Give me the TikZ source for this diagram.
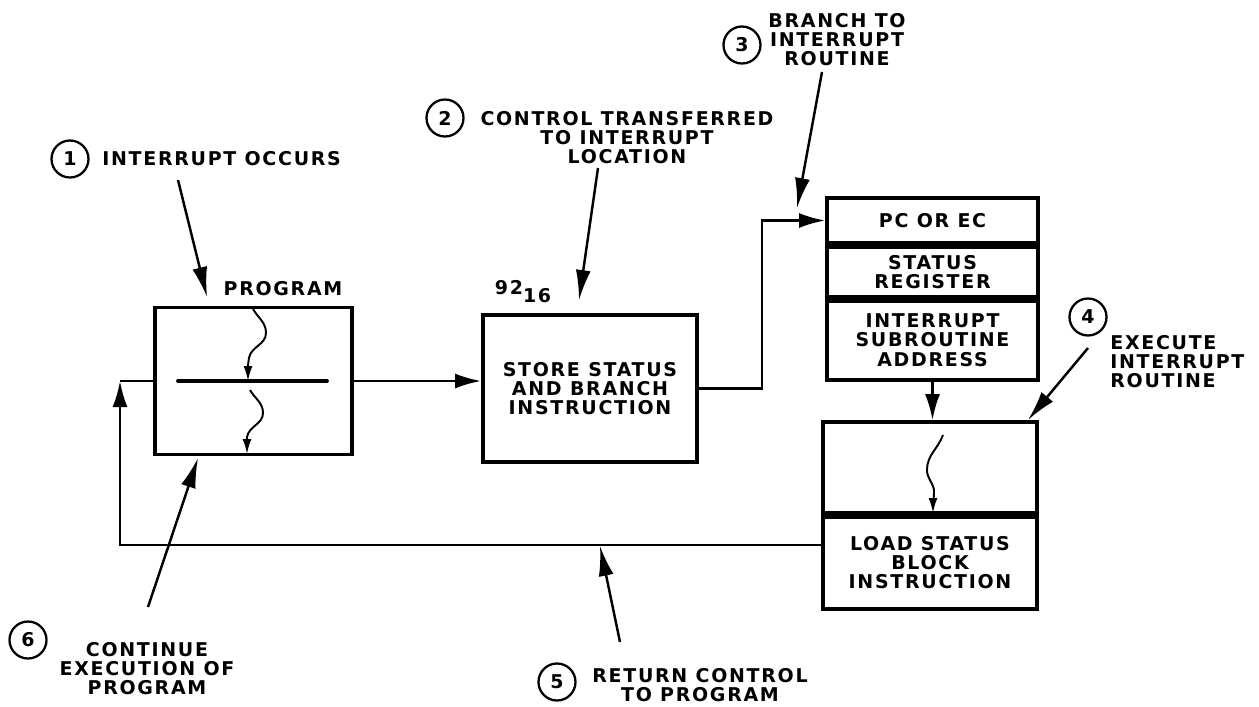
\documentclass[tikz,border=0pt]{standalone}
\usepackage{fontspec}
\setmainfont{DejaVu Sans}[LetterSpace=9]
\usetikzlibrary{arrows.meta,positioning}

\tikzset{
  lbl/.style={font=\bfseries\fontsize{10.8}{10.9}\selectfont,align=center,inner sep=0pt},
  box/.style={draw,line width=2.2pt,inner sep=0pt,lbl},
  num/.style={draw,circle,line width=1.3pt,minimum size=0.74cm,inner sep=0pt,lbl},
  flow/.style={line width=1.4pt,-{Latex[length=0.52cm,width=0.3cm]}},
  pointer/.style={line width=1.4pt,-{Latex[length=0.6cm,width=0.3cm]}},
  wavy/.style={line width=1.1pt,-{Latex[length=0.3cm,width=0.18cm]}}
}

\begin{document}
\begin{tikzpicture}[x=0.02cm,y=-0.02cm]
    \useasboundingbox (0,0) rectangle (1259,707);
    \node[box,minimum width=3.94cm,minimum height=2.94cm] (prog) at (253.5,381) {};
    \node[lbl] (progt) at (283,289) {PROGRAM};
    \draw[line width=2.2pt,line cap=round] (178,381) -- (327,381);
    \draw[wavy] (253,309) to[out=-60,in=90] (266,333) to[out=-90,in=80] (249,358) to[out=-100,in=90] (248,381);
    \draw[wavy] (250,390) to[out=-60,in=90] (263,413) to[out=-90,in=80] (247,437) to[out=-95,in=90] (247,454);
    \node[box,minimum width=4.28cm,minimum height=2.94cm] (store) at (590,388.5) {STORE STATUS\\AND BRANCH\\INSTRUCTION};
    \node[lbl] (hex) at (523,292) {92\raisebox{-0.16cm}{16}};
    \node[box,minimum width=4.22cm,minimum height=0.9cm] (pc) at (932.5,220.5) {PC OR EC};
    \node[box,minimum width=4.22cm,minimum height=1.0cm,below=0pt of pc] (sr) {STATUS\\REGISTER};
    \node[box,minimum width=4.22cm,minimum height=1.58cm,below=0pt of sr] (isa) {INTERRUPT\\SUBROUTINE\\ADDRESS};
    \node[box,minimum width=4.28cm,minimum height=1.82cm] (run) at (930,467.5) {};
    \node[box,minimum width=4.28cm,minimum height=1.84cm,below=0pt of run] (load) {LOAD STATUS\\BLOCK\\INSTRUCTION};
    \draw[wavy] (943,435) to[out=-110,in=90] (927,470) to[out=-90,in=100] (934,490) to[out=-90,in=90] (933,513);
    \coordinate (jog) at (762,220.5);
    \coordinate (rc) at (120,381);
    \coordinate (bl) at (120,545);
    \draw[flow] (prog.east) -- (prog.east -| store.west);
    \draw[flow] (store.east) -| (jog) -- (pc.west);
    \draw[flow] (isa.south) -- (isa.south |- run.north);
    \draw[flow] (bl -| load.west) -- (bl) -- (rc);
    \draw[line width=1.4pt] (rc) -- (rc -| prog.west);
    \node[num] (n1) at (70,159) {1};
    \node[lbl,anchor=west] (t1) at (102,159) {INTERRUPT OCCURS};
    \node[num] (n2) at (445,118) {2};
    \node[lbl,anchor=north] (t2) at (627,111) {CONTROL TRANSFERRED\\TO INTERRUPT\\LOCATION};
    \node[num] (n3) at (742,45) {3};
    \node[lbl,anchor=north] (t3) at (837,13) {BRANCH TO\\INTERRUPT\\ROUTINE};
    \node[num] (n4) at (1088,317) {4};
    \node[lbl,anchor=north west,align=left] (t4) at (1110,335) {EXECUTE\\INTERRUPT\\ROUTINE};
    \node[num] (n5) at (557,682) {5};
    \node[lbl,anchor=north] (t5) at (700,668) {RETURN CONTROL\\TO PROGRAM};
    \node[num] (n6) at (28,640) {6};
    \node[lbl,anchor=north] (t6) at (147,642) {CONTINUE\\EXECUTION OF\\PROGRAM};
    \coordinate (s1) at (178,180); \coordinate (e1) at (207,297);
    \coordinate (s2) at (598,168); \coordinate (e2) at (579,300);
    \coordinate (s3) at (822,72);  \coordinate (e3) at (797,208);
    \coordinate (s4) at (1088,348); \coordinate (e4) at (1028,420);
    \coordinate (s5) at (620,642); \coordinate (e5) at (600,546);
    \coordinate (s6) at (148,607); \coordinate (e6) at (198,458);
    \draw[pointer] (s1) -- (e1);
    \draw[pointer] (s2) -- (e2);
    \draw[pointer] (s3) -- (e3);
    \draw[pointer] (s4) -- (e4);
    \draw[pointer] (s5) -- (e5);
    \draw[pointer] (s6) -- (e6);
\end{tikzpicture}
\end{document}
